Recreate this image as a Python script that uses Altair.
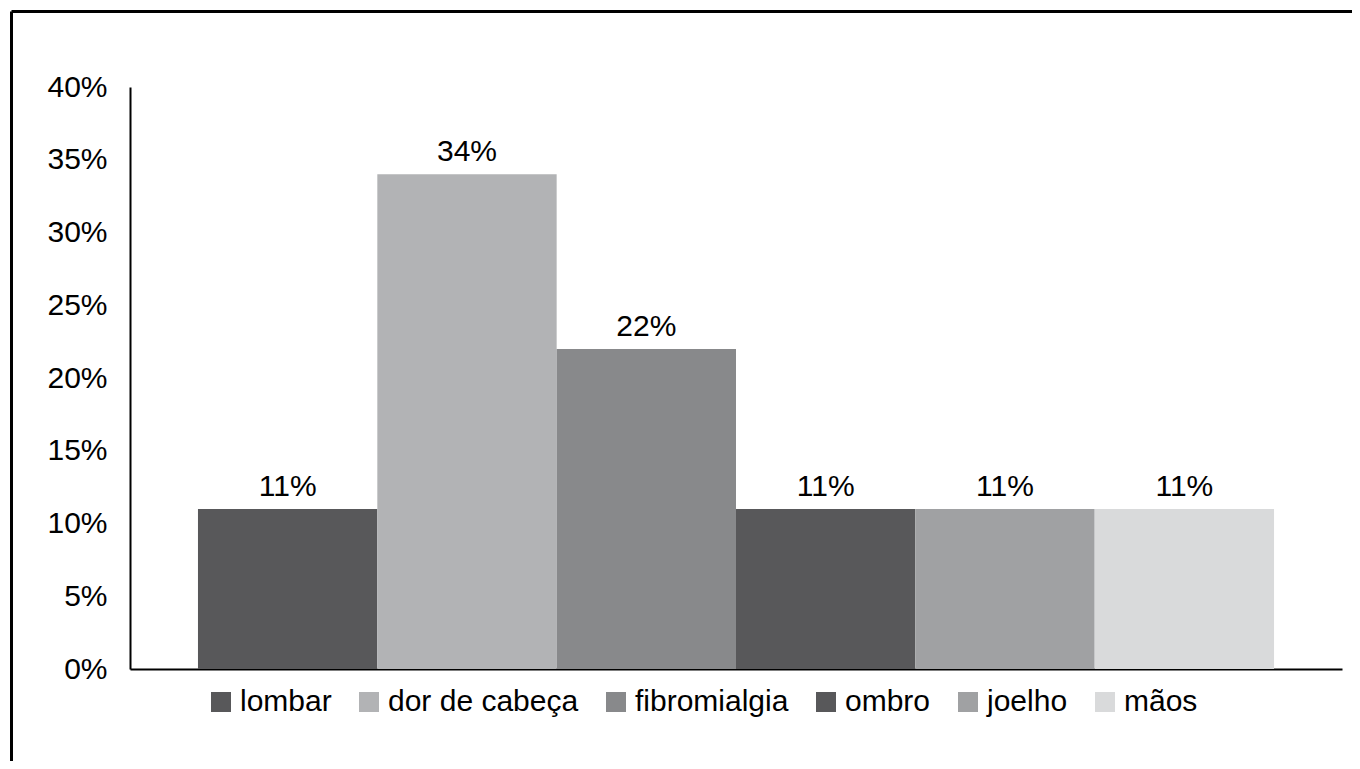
import altair as alt
import pandas as pd

categories = ["lombar", "dor de cabeça", "fibromialgia", "ombro", "joelho", "mãos"]
values = [0.11, 0.34, 0.22, 0.11, 0.11, 0.11]
colors = ["#58585a", "#b2b3b5", "#88898b", "#58585a", "#a0a1a3", "#d9dadb"]
y_ticks = [0, 0.05, 0.10, 0.15, 0.20, 0.25, 0.30, 0.35, 0.40]

FONT = "Liberation Sans"
FS = 30

df = pd.DataFrame({"categoria": categories, "valor": values})

x_enc = alt.X(
    "categoria:N",
    sort=categories,
    scale=alt.Scale(paddingInner=0, paddingOuter=0.379),
    axis=alt.Axis(labels=False, ticks=False, title=None, domainColor="black", domainWidth=2),
)
y_enc = alt.Y(
    "valor:Q",
    scale=alt.Scale(domain=[0, 0.4], nice=False),
    axis=alt.Axis(
        values=y_ticks, format=".0%", grid=False, ticks=False, title=None,
        domainColor="black", domainWidth=2, labelFontSize=FS, labelFont=FONT,
        labelColor="black", labelPadding=23, labelFlush=False, labelOverlap=False,
    ),
)

bars = alt.Chart(df).mark_bar().encode(
    x=x_enc,
    y=y_enc,
    color=alt.Color(
        "categoria:N",
        sort=categories,
        scale=alt.Scale(domain=categories, range=colors),
        legend=alt.Legend(
            orient="none", legendX=76, legendY=600, direction="horizontal", columns=6,
            title=None, symbolType="square", symbolSize=400, symbolStrokeWidth=0,
            labelFontSize=FS, labelFont=FONT, labelColor="black", labelOffset=4,
            labelLimit=1000, columnPadding=22, padding=0,
        ),
    ),
)

labels = alt.Chart(df).mark_text(
    baseline="alphabetic", dy=-13, fontSize=FS, font=FONT, color="black"
).encode(
    x=alt.X("categoria:N", sort=categories),
    y="valor:Q",
    text=alt.Text("valor:Q", format=".0%"),
)

frame_df = pd.DataFrame({"k": [0]})
frame_left = alt.Chart(frame_df).mark_rule(color="black", strokeWidth=3).encode(
    x=alt.value(-118.5), y=alt.value(-75.5), y2=alt.value(800)
)
frame_top = alt.Chart(frame_df).mark_rule(color="black", strokeWidth=3).encode(
    x=alt.value(-118.5), x2=alt.value(1400), y=alt.value(-75.5)
)

chart = alt.layer(bars, labels, frame_left, frame_top).properties(
    width=1212,
    height=582,
    background="white",
    autosize=alt.AutoSizeParams(type="none"),
    padding={"left": 122, "top": 79, "right": 10, "bottom": 92},
).configure_view(strokeWidth=0, stroke="transparent")

chart.save("out.html", embed_options={"renderer": "svg", "actions": False})
